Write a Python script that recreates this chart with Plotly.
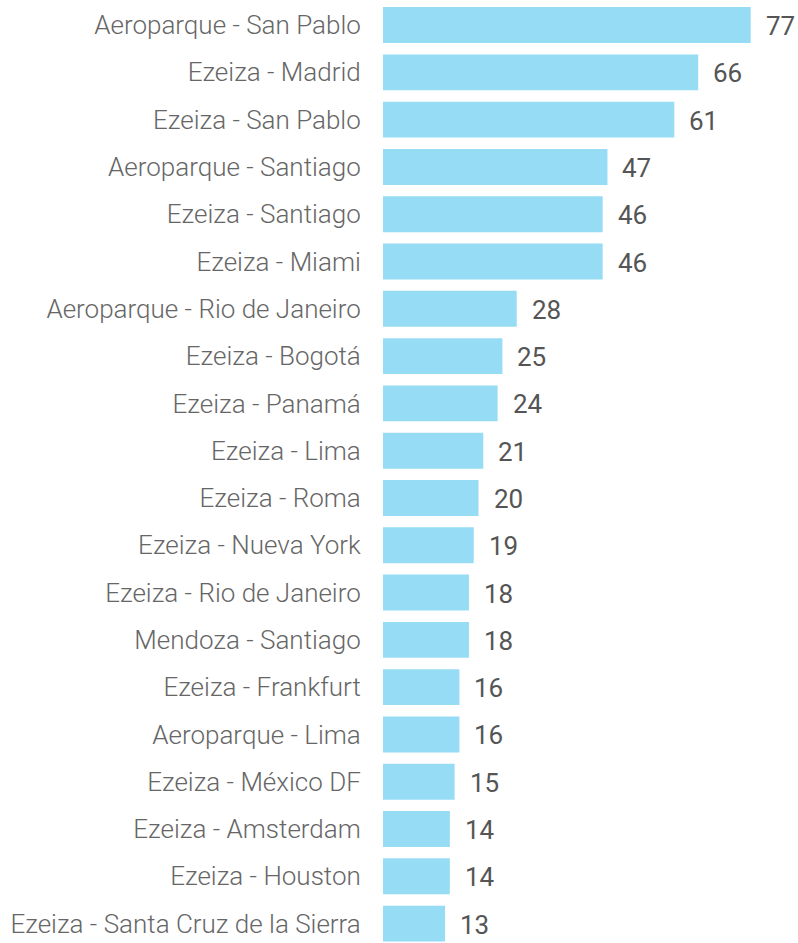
import plotly.graph_objects as go

routes = [
    "Aeroparque - San Pablo", "Ezeiza - Madrid", "Ezeiza - San Pablo",
    "Aeroparque - Santiago", "Ezeiza - Santiago", "Ezeiza - Miami",
    "Aeroparque - Rio de Janeiro", "Ezeiza - Bogotá", "Ezeiza - Panamá",
    "Ezeiza - Lima", "Ezeiza - Roma", "Ezeiza - Nueva York",
    "Ezeiza - Rio de Janeiro", "Mendoza - Santiago", "Ezeiza - Frankfurt",
    "Aeroparque - Lima", "Ezeiza - México DF", "Ezeiza - Amsterdam",
    "Ezeiza - Houston", "Ezeiza - Santa Cruz de la Sierra",
]
flights = [77, 66, 61, 47, 46, 46, 28, 25, 24, 21, 20, 19, 18, 18, 16, 16, 15, 14, 14, 13]

BAR_COLOR = "#96dcf5"

fig = go.Figure()
fig.add_trace(go.Bar(
    x=flights, y=routes, orientation="h",
    marker=dict(color=BAR_COLOR, line=dict(width=0)),
    hoverinfo="x+y",
))

for r, v in zip(routes, flights):
    fig.add_annotation(
        x=v, y=r, text=str(v), showarrow=False,
        xanchor="left", yanchor="middle", xshift=13, yshift=-1,
        font=dict(family="Roboto", size=26, color="#555555"),
    )

fig.update_layout(
    width=798, height=943,
    margin=dict(l=383, r=0, t=0, b=0, autoexpand=False),
    paper_bgcolor="white", plot_bgcolor="white",
    bargap=0.24,
    showlegend=False,
    xaxis=dict(range=[0, 86.9], visible=False, fixedrange=True, automargin=False),
    yaxis=dict(
        range=[19.41, -0.53], showgrid=False, zeroline=False, showline=False,
        automargin=False,
        ticks="outside", ticklen=16, tickcolor="rgba(0,0,0,0)",
        tickfont=dict(family="Roboto Light, Roboto", size=26, color="#666666"),
        fixedrange=True,
    ),
)

fig.write_html(
    "out.html",
    config={"displayModeBar": False},
    post_script="document.body.style.margin='0';document.body.style.overflow='hidden';",
)
